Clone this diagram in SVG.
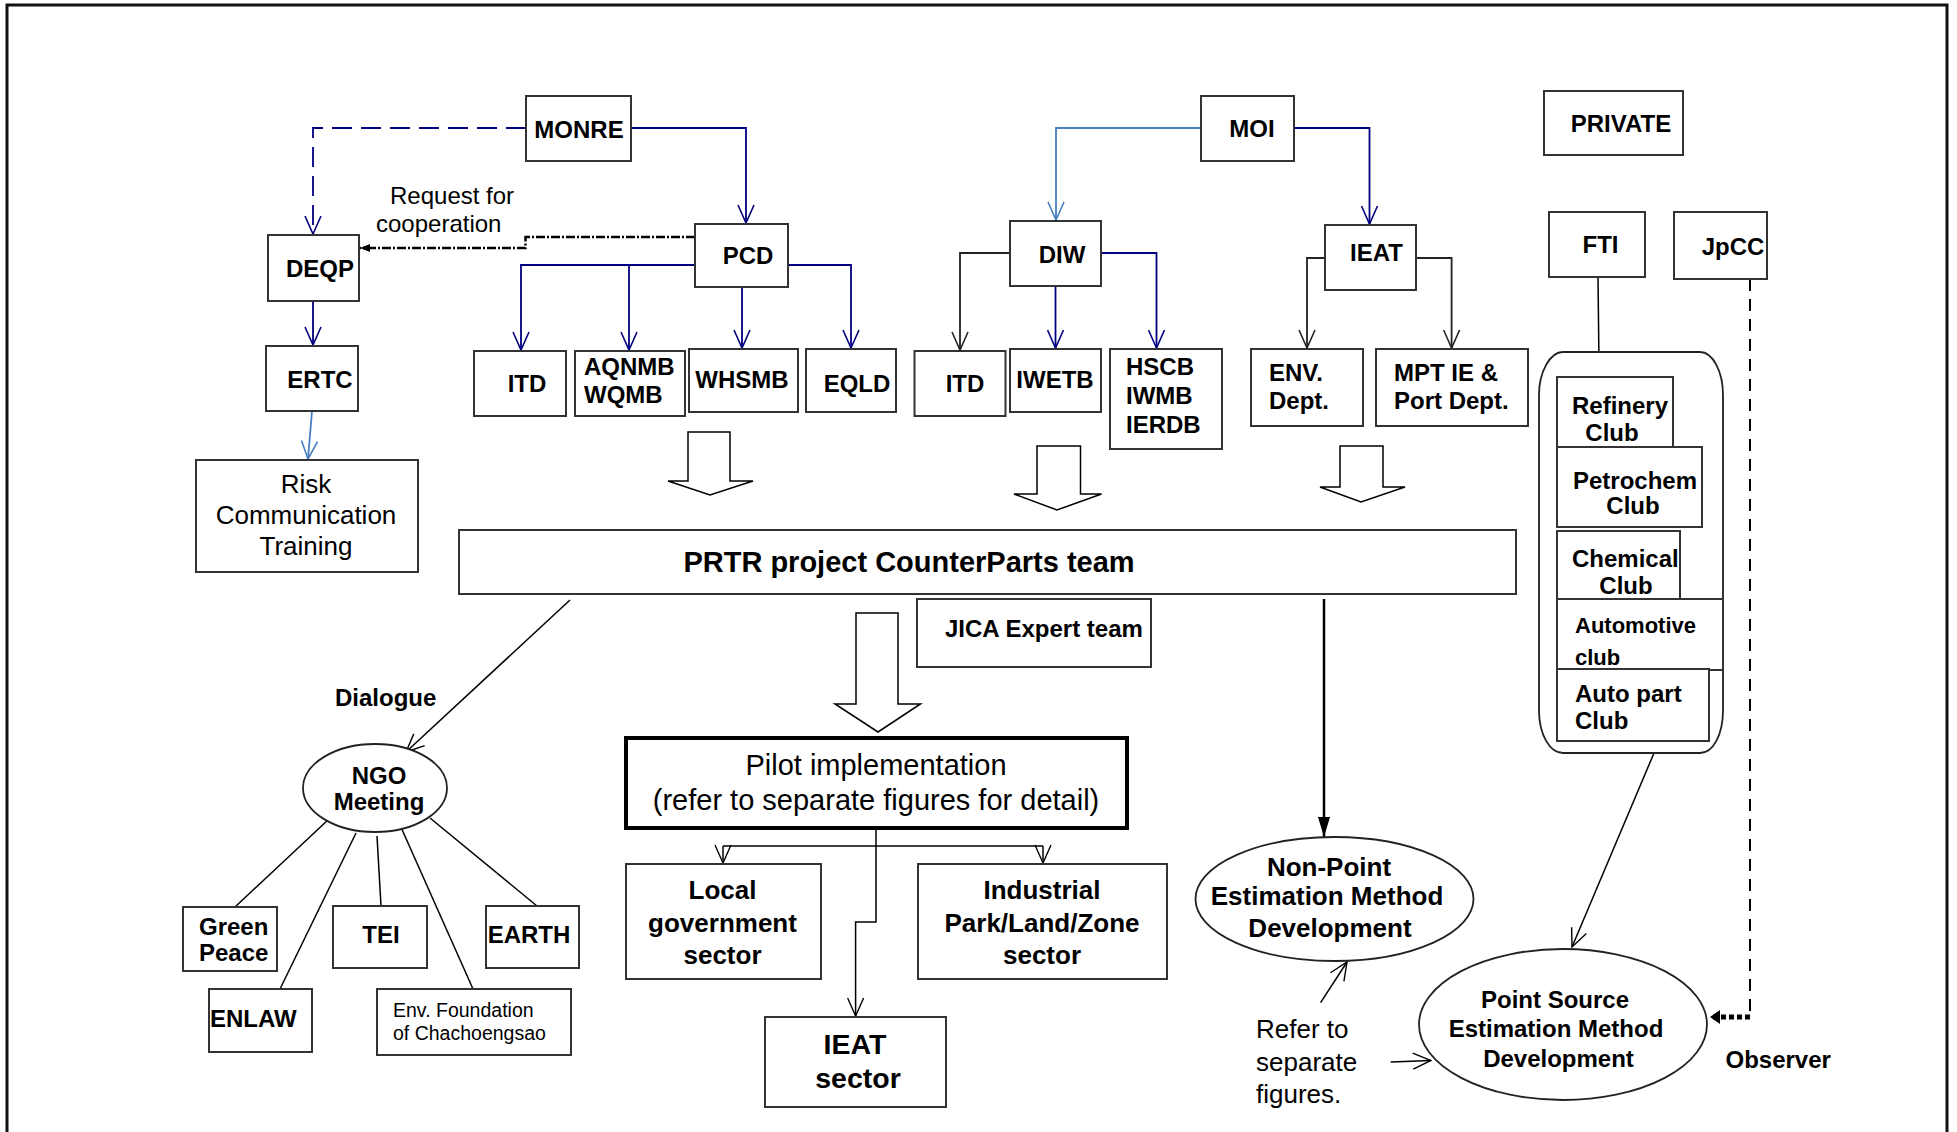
<svg xmlns="http://www.w3.org/2000/svg" width="1957" height="1132" viewBox="0 0 1957 1132">
<defs>
<style>
.box{fill:#fff;stroke:#333;stroke-width:2}
.t{font-family:"Liberation Sans",Arial,sans-serif;font-size:24px;font-weight:bold;fill:#000}
.r{font-family:"Liberation Sans",Arial,sans-serif;font-weight:normal;fill:#000}
.m{text-anchor:middle}
.navy{fill:none;stroke:#000080;stroke-width:1.8}
.lb{fill:none;stroke:#4a7fc1;stroke-width:1.8}
.dk{fill:none;stroke:#222;stroke-width:1.8}
.bk{fill:none;stroke:#000;stroke-width:1.5}
.hollow{fill:#fff;stroke:#000;stroke-width:1.5}
</style>
<marker id="aNavy" viewBox="0 0 20 18" refX="19" refY="9" markerWidth="20" markerHeight="18" orient="auto" markerUnits="userSpaceOnUse"><path d="M1,1 L19,9 L1,17" fill="none" stroke="#000080" stroke-width="1.6"/></marker>
<marker id="aLb" viewBox="0 0 20 18" refX="19" refY="9" markerWidth="20" markerHeight="18" orient="auto" markerUnits="userSpaceOnUse"><path d="M1,1 L19,9 L1,17" fill="none" stroke="#4a7fc1" stroke-width="1.6"/></marker>
<marker id="aDk" viewBox="0 0 20 18" refX="19" refY="9" markerWidth="20" markerHeight="18" orient="auto" markerUnits="userSpaceOnUse"><path d="M1,1 L19,9 L1,17" fill="none" stroke="#222" stroke-width="1.6"/></marker>
<marker id="aBk" viewBox="0 0 20 18" refX="19" refY="9" markerWidth="20" markerHeight="18" orient="auto" markerUnits="userSpaceOnUse"><path d="M1,1 L19,9 L1,17" fill="none" stroke="#000" stroke-width="1.4"/></marker>
<marker id="aFill" viewBox="0 0 20 12" refX="20" refY="6" markerWidth="20" markerHeight="12" orient="auto" markerUnits="userSpaceOnUse"><path d="M0,0 L20,6 L0,12 Z" fill="#000"/></marker>
<marker id="aSmall" viewBox="0 0 10 8" refX="10" refY="4" markerWidth="10" markerHeight="8" orient="auto" markerUnits="userSpaceOnUse"><path d="M0,0 L10,4 L0,8 Z" fill="#000"/></marker>
<marker id="aObs" viewBox="0 0 10 14" refX="10" refY="7" markerWidth="10" markerHeight="14" orient="auto" markerUnits="userSpaceOnUse"><path d="M0,0 L10,7 L0,14 Z" fill="#000"/></marker>
</defs>
<rect x="0" y="0" width="1957" height="1132" fill="#fff"/>
<path d="M7,1140 V5 H1947 V1140" fill="none" stroke="#111" stroke-width="3"/>

<g id="connectors">
<path class="navy" d="M526,128 H313 V234" stroke-dasharray="20 9" marker-end="url(#aNavy)"/>
<path class="navy" d="M631,128 H746 V223" marker-end="url(#aNavy)"/>
<path class="navy" d="M313,301 V345" marker-end="url(#aNavy)"/>
<path class="navy" d="M695,265 H521 V350" marker-end="url(#aNavy)"/>
<path class="navy" d="M629,265 V350" marker-end="url(#aNavy)"/>
<path class="navy" d="M742,287 V348" marker-end="url(#aNavy)"/>
<path class="navy" d="M788,265 H851 V348" marker-end="url(#aNavy)"/>
<path class="navy" d="M1294,128 H1369.5 V224" marker-end="url(#aNavy)"/>
<path class="navy" d="M1055.5,286 V348" marker-end="url(#aNavy)"/>
<path class="navy" d="M1101,253 H1156.5 V348" marker-end="url(#aNavy)"/>
<path class="lb" d="M312,411 L308,459" marker-end="url(#aLb)"/>
<path class="lb" d="M1201,128 H1056 V220" marker-end="url(#aLb)"/>
<path class="dk" d="M1010,253 H960 V350" marker-end="url(#aDk)"/>
<path class="dk" d="M1325,258 H1307 V348" marker-end="url(#aDk)"/>
<path class="dk" d="M1416,258 H1451.6 V348" marker-end="url(#aDk)"/>
<path d="M695,237 H525.5 V248 H360" fill="none" stroke="#000" stroke-width="2.5" stroke-dasharray="9 2 2 2" marker-end="url(#aSmall)"/>
<path class="bk" d="M570,600 L406,752" marker-end="url(#aBk)"/>
<path class="bk" d="M329,819 L235,907"/>
<path class="bk" d="M356,833 L280,989"/>
<path class="bk" d="M377,836 L381,906"/>
<path class="bk" d="M400,825 L473,989"/>
<path class="bk" d="M430,818 L537,906"/>
<path class="bk" d="M1598,277 L1599,365"/>
<path class="bk" d="M1654,753 L1572,947" marker-end="url(#aBk)"/>
<path d="M1324,599 V837" fill="none" stroke="#000" stroke-width="2.5" marker-end="url(#aFill)"/>
<path d="M1750,279 V1017" fill="none" stroke="#000" stroke-width="2" stroke-dasharray="12 8"/>
<path d="M1750,1017 H1710" fill="none" stroke="#000" stroke-width="5" stroke-dasharray="5 3" marker-end="url(#aObs)"/>
<path class="bk" d="M1320.6,1002.7 L1347,962" marker-end="url(#aBk)"/>
<path class="bk" d="M1390.7,1062 L1431,1060.5" marker-end="url(#aBk)"/>
<path class="bk" d="M876,828 V846"/>
<path class="bk" d="M723,846 H1043"/>
<path class="bk" d="M723,846 V863" marker-end="url(#aBk)"/>
<path class="bk" d="M1043,846 V863" marker-end="url(#aBk)"/>
<path class="bk" d="M876,846 V922 H855.6 V1016" marker-end="url(#aBk)"/>
</g>

<g id="block-arrows">
<path class="hollow" d="M688,432 H730 V481 H753 L710,495 L668,481 H688 Z"/>
<path class="hollow" d="M1037,446 H1080.5 V494 H1101.5 L1057,510 L1014,494 H1037 Z"/>
<path class="hollow" d="M1340,446 H1383 V487 H1405 L1361,502 L1320,487 H1340 Z"/>
<path class="hollow" d="M856,613 H898 V704 H920.5 L878,732 L835,704 H856 Z"/>
</g>

<g id="request-label">
<text class="r" font-size="24" x="390" y="204">Request for</text>
<text class="r" font-size="24" x="376" y="232">cooperation</text>
</g>

<g id="MONRE"><rect class="box" x="526" y="96" width="105" height="65"/><text class="t m" x="579" y="138">MONRE</text></g>
<g id="DEQP"><rect class="box" x="268" y="235" width="91" height="66"/><text class="t m" x="320" y="277">DEQP</text></g>
<g id="ERTC"><rect class="box" x="266" y="346" width="92" height="65"/><text class="t m" x="320" y="388">ERTC</text></g>
<g id="Risk"><rect class="box" x="196" y="460" width="222" height="112"/>
<text class="r m" font-size="26" x="306" y="493">Risk</text>
<text class="r m" font-size="26" x="306" y="524">Communication</text>
<text class="r m" font-size="26" x="306" y="555">Training</text></g>
<g id="PCD"><rect class="box" x="695" y="224" width="93" height="63"/><text class="t m" x="748" y="264">PCD</text></g>
<g id="ITD1"><rect class="box" x="474" y="351" width="92" height="65"/><text class="t m" x="527" y="392">ITD</text></g>
<g id="AQNMB"><rect class="box" x="575" y="351" width="110" height="65"/><text class="t" x="584" y="375">AQNMB</text><text class="t" x="584" y="403">WQMB</text></g>
<g id="WHSMB"><rect class="box" x="689" y="349" width="109" height="63"/><text class="t m" x="742" y="388">WHSMB</text></g>
<g id="EQLD"><rect class="box" x="806" y="349" width="90" height="63"/><text class="t m" x="857" y="392">EQLD</text></g>

<g id="MOI"><rect class="box" x="1201" y="96" width="93" height="65"/><text class="t m" x="1252" y="137">MOI</text></g>
<g id="DIW"><rect class="box" x="1010" y="221" width="91" height="65"/><text class="t m" x="1062" y="263">DIW</text></g>
<g id="ITD2"><rect class="box" x="914.5" y="351" width="91" height="65"/><text class="t m" x="965" y="392">ITD</text></g>
<g id="IWETB"><rect class="box" x="1010" y="349" width="91" height="63"/><text class="t m" x="1055" y="388">IWETB</text></g>
<g id="HSCB"><rect class="box" x="1110" y="349" width="112" height="100"/><text class="t" x="1126" y="375">HSCB</text><text class="t" x="1126" y="404">IWMB</text><text class="t" x="1126" y="433">IERDB</text></g>
<g id="IEAT"><rect class="box" x="1325" y="225" width="91" height="65"/><text class="t m" x="1376.5" y="261">IEAT</text></g>
<g id="ENV"><rect class="box" x="1251" y="349" width="112" height="77"/><text class="t" x="1269" y="381">ENV.</text><text class="t" x="1269" y="409">Dept.</text></g>
<g id="MPT"><rect class="box" x="1376" y="349" width="152" height="77"/><text class="t" x="1394" y="381">MPT IE &amp;</text><text class="t" x="1394" y="409">Port Dept.</text></g>

<g id="PRIVATE"><rect class="box" x="1544" y="91" width="139" height="64"/><text class="t m" x="1621" y="132">PRIVATE</text></g>
<g id="FTI"><rect class="box" x="1549" y="212" width="96" height="65"/><text class="t m" x="1600.5" y="253">FTI</text></g>
<g id="JpCC"><rect class="box" x="1674" y="212" width="93" height="67"/><text class="t m" x="1733" y="255">JpCC</text></g>

<g id="clubs">
<path d="M1563,352 H1700 C1713,352 1723,372 1723,395 V710 C1723,735 1713,753 1700,753 H1563 C1550,753 1539,735 1539,710 V395 C1539,372 1550,352 1563,352 Z" fill="#fff" stroke="#222" stroke-width="1.8"/>
<g id="Refinery"><rect class="box" x="1557" y="377" width="116" height="70"/><text class="t" x="1572" y="414">Refinery</text><text class="t m" x="1612" y="441">Club</text></g>
<g id="Petrochem"><rect class="box" x="1557" y="447" width="145" height="80"/><text class="t m" x="1635" y="489">Petrochem</text><text class="t m" x="1633" y="514">Club</text></g>
<g id="Chemical"><rect class="box" x="1557" y="531" width="123" height="68"/><text class="t" x="1572" y="567">Chemical</text><text class="t m" x="1626" y="594">Club</text></g>
<g id="Automotive"><rect class="box" x="1557" y="599" width="166" height="71"/><text class="t" style="font-size:22px" x="1575" y="633">Automotive</text><text class="t" style="font-size:22px" x="1575" y="665">club</text></g>
<g id="Autopart"><rect class="box" x="1557" y="669" width="152" height="72"/><text class="t" x="1575" y="702">Auto part</text><text class="t" x="1575" y="729">Club</text></g>
</g>

<g id="PRTR"><rect class="box" x="459" y="530" width="1057" height="64"/><text class="t m" x="909" y="572" style="font-size:29px">PRTR project CounterParts team</text></g>
<g id="JICA"><rect class="box" x="917" y="599" width="234" height="68"/><text class="t" x="945" y="637">JICA Expert team</text></g>

<g id="Dialogue"><text class="t" x="335" y="706">Dialogue</text></g>
<g id="NGO"><ellipse cx="375" cy="788" rx="72" ry="44" fill="#fff" stroke="#222" stroke-width="1.8"/><text class="t m" x="379" y="784">NGO</text><text class="t m" x="379" y="810">Meeting</text></g>
<g id="GreenPeace"><rect class="box" x="183" y="907" width="94" height="64"/><text class="t" x="199" y="935">Green</text><text class="t" x="199" y="961">Peace</text></g>
<g id="TEI"><rect class="box" x="333" y="906" width="94" height="62"/><text class="t m" x="381" y="943">TEI</text></g>
<g id="EARTH"><rect class="box" x="486" y="906" width="93" height="62"/><text class="t m" x="529" y="943">EARTH</text></g>
<g id="ENLAW"><rect class="box" x="209" y="989" width="103" height="63"/><text class="t" x="210" y="1027">ENLAW</text></g>
<g id="EnvFoundation"><rect class="box" x="377" y="989" width="194" height="66"/><text class="r" font-size="19.5" x="393" y="1017">Env. Foundation</text><text class="r" font-size="19.5" x="393" y="1040">of Chachoengsao</text></g>

<g id="Pilot"><rect x="626" y="738" width="501" height="90" fill="#fff" stroke="#000" stroke-width="4"/>
<text class="r m" font-size="29" x="876" y="775">Pilot implementation</text>
<text class="r m" font-size="29" x="876" y="810">(refer to separate figures for detail)</text></g>
<g id="Local"><rect class="box" x="626" y="864" width="195" height="115"/><text class="t m" style="font-size:26px" x="722.5" y="899">Local</text><text class="t m" style="font-size:26px" x="722.5" y="932">government</text><text class="t m" style="font-size:26px" x="722.5" y="964">sector</text></g>
<g id="Industrial"><rect class="box" x="918" y="864" width="249" height="115"/><text class="t m" style="font-size:26px" x="1042" y="899">Industrial</text><text class="t m" style="font-size:26px" x="1042" y="932">Park/Land/Zone</text><text class="t m" style="font-size:26px" x="1042" y="964">sector</text></g>
<g id="IEATsector"><rect class="box" x="765" y="1017" width="181" height="90"/><text class="t m" style="font-size:28.5px" x="855" y="1054">IEAT</text><text class="t m" style="font-size:28.5px" x="858" y="1088">sector</text></g>

<g id="NonPoint"><ellipse cx="1334.5" cy="899" rx="139" ry="62" fill="#fff" stroke="#222" stroke-width="1.8"/>
<text class="t m" style="font-size:26px" x="1329" y="876">Non-Point</text><text class="t m" style="font-size:26px" x="1327" y="904.5">Estimation Method</text><text class="t m" style="font-size:26px" x="1330" y="937">Development</text></g>
<g id="PointSource"><ellipse cx="1563" cy="1024.5" rx="144" ry="75.5" fill="#fff" stroke="#222" stroke-width="1.8"/>
<text class="t m" x="1555" y="1008">Point Source</text><text class="t m" x="1556" y="1037">Estimation Method</text><text class="t m" x="1558.5" y="1067">Development</text></g>
<g id="Observer"><text class="t" x="1725.5" y="1067.5">Observer</text></g>
<g id="ReferTo"><text class="r" font-size="26" x="1256" y="1038">Refer to</text><text class="r" font-size="26" x="1256" y="1071">separate</text><text class="r" font-size="26" x="1256" y="1103">figures.</text></g>
</svg>
